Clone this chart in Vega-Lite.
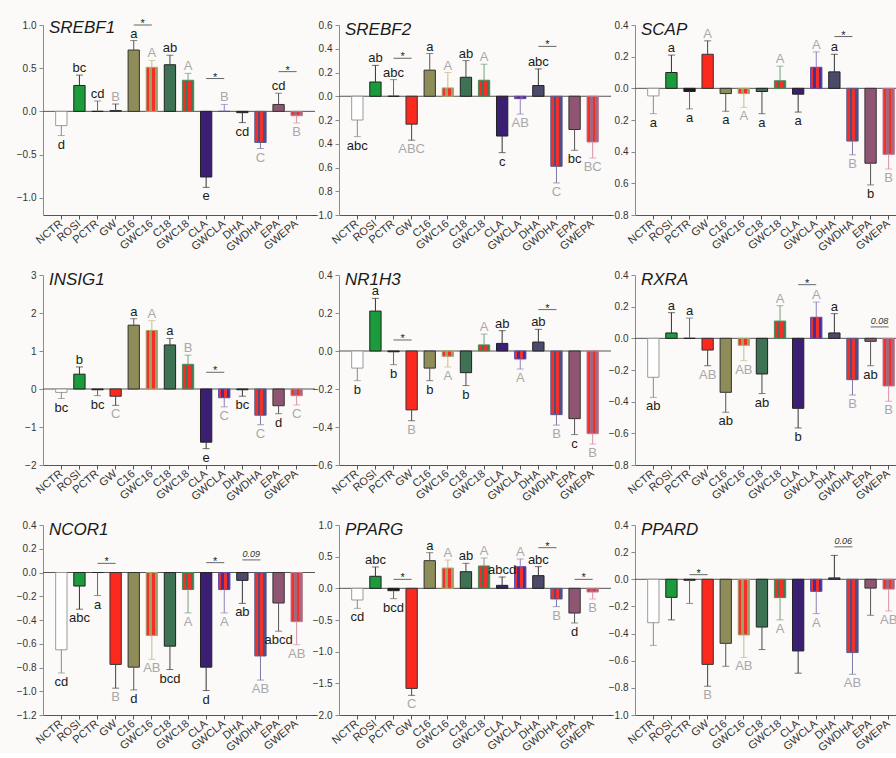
{
"$schema":"https://vega.github.io/schema/vega-lite/v6.json",
"background":"#fcfaf8",
"padding":{"left":16,"top":18,"right":0,"bottom":0},
"columns":3,
"spacing":{"row":60,"column":24},
"bounds":"flush",
"datasets":{
"bars":[
{"g":"SREBF1","c":"NCTR","v":-0.165,"e":-0.28,"l":"d"},
{"g":"SREBF1","c":"ROSI","v":0.30,"e":0.42,"l":"bc"},
{"g":"SREBF1","c":"PCTR","v":0.0,"e":0.12,"l":"cd"},
{"g":"SREBF1","c":"GW","v":0.01,"e":0.085,"l":"B"},
{"g":"SREBF1","c":"C16","v":0.71,"e":0.82,"l":"a"},
{"g":"SREBF1","c":"GWC16","v":0.51,"e":0.59,"l":"A"},
{"g":"SREBF1","c":"C18","v":0.54,"e":0.65,"l":"ab"},
{"g":"SREBF1","c":"GWC18","v":0.36,"e":0.44,"l":"A"},
{"g":"SREBF1","c":"CLA","v":-0.76,"e":-0.88,"l":"e"},
{"g":"SREBF1","c":"GWCLA","v":0.0,"e":0.08,"l":"B"},
{"g":"SREBF1","c":"DHA","v":-0.015,"e":-0.13,"l":"cd"},
{"g":"SREBF1","c":"GWDHA","v":-0.36,"e":-0.43,"l":"C"},
{"g":"SREBF1","c":"EPA","v":0.08,"e":0.21,"l":"cd"},
{"g":"SREBF1","c":"GWEPA","v":-0.05,"e":-0.135,"l":"B"},
{"g":"SREBF2","c":"NCTR","v":-0.20,"e":-0.34,"l":"abc"},
{"g":"SREBF2","c":"ROSI","v":0.12,"e":0.26,"l":"ab"},
{"g":"SREBF2","c":"PCTR","v":0.0,"e":0.14,"l":"abc"},
{"g":"SREBF2","c":"GW","v":-0.235,"e":-0.37,"l":"ABC"},
{"g":"SREBF2","c":"C16","v":0.22,"e":0.36,"l":"a"},
{"g":"SREBF2","c":"GWC16","v":0.07,"e":0.20,"l":"A"},
{"g":"SREBF2","c":"C18","v":0.16,"e":0.30,"l":"ab"},
{"g":"SREBF2","c":"GWC18","v":0.135,"e":0.27,"l":"A"},
{"g":"SREBF2","c":"CLA","v":-0.335,"e":-0.475,"l":"c"},
{"g":"SREBF2","c":"GWCLA","v":-0.02,"e":-0.15,"l":"AB"},
{"g":"SREBF2","c":"DHA","v":0.09,"e":0.23,"l":"abc"},
{"g":"SREBF2","c":"GWDHA","v":-0.59,"e":-0.73,"l":"C"},
{"g":"SREBF2","c":"EPA","v":-0.28,"e":-0.455,"l":"bc"},
{"g":"SREBF2","c":"GWEPA","v":-0.385,"e":-0.52,"l":"BC"},
{"g":"SCAP","c":"NCTR","v":-0.048,"e":-0.16,"l":"a"},
{"g":"SCAP","c":"ROSI","v":0.10,"e":0.21,"l":"a"},
{"g":"SCAP","c":"PCTR","v":-0.02,"e":-0.13,"l":"a"},
{"g":"SCAP","c":"GW","v":0.215,"e":0.30,"l":"A"},
{"g":"SCAP","c":"C16","v":-0.033,"e":-0.145,"l":"a"},
{"g":"SCAP","c":"GWC16","v":-0.033,"e":-0.12,"l":"A"},
{"g":"SCAP","c":"C18","v":-0.02,"e":-0.16,"l":"a"},
{"g":"SCAP","c":"GWC18","v":0.048,"e":0.14,"l":"A"},
{"g":"SCAP","c":"CLA","v":-0.037,"e":-0.15,"l":"a"},
{"g":"SCAP","c":"GWCLA","v":0.133,"e":0.23,"l":"A"},
{"g":"SCAP","c":"DHA","v":0.104,"e":0.215,"l":"a"},
{"g":"SCAP","c":"GWDHA","v":-0.333,"e":-0.42,"l":"B"},
{"g":"SCAP","c":"EPA","v":-0.473,"e":-0.61,"l":"b"},
{"g":"SCAP","c":"GWEPA","v":-0.417,"e":-0.51,"l":"B"},
{"g":"INSIG1","c":"NCTR","v":-0.09,"e":-0.25,"l":"bc"},
{"g":"INSIG1","c":"ROSI","v":0.39,"e":0.58,"l":"b"},
{"g":"INSIG1","c":"PCTR","v":-0.02,"e":-0.175,"l":"bc"},
{"g":"INSIG1","c":"GW","v":-0.19,"e":-0.43,"l":"C"},
{"g":"INSIG1","c":"C16","v":1.68,"e":1.85,"l":"a"},
{"g":"INSIG1","c":"GWC16","v":1.54,"e":1.80,"l":"A"},
{"g":"INSIG1","c":"C18","v":1.16,"e":1.33,"l":"a"},
{"g":"INSIG1","c":"GWC18","v":0.65,"e":0.89,"l":"B"},
{"g":"INSIG1","c":"CLA","v":-1.40,"e":-1.57,"l":"e"},
{"g":"INSIG1","c":"GWCLA","v":-0.23,"e":-0.47,"l":"C"},
{"g":"INSIG1","c":"DHA","v":-0.02,"e":-0.19,"l":"bc"},
{"g":"INSIG1","c":"GWDHA","v":-0.69,"e":-0.94,"l":"C"},
{"g":"INSIG1","c":"EPA","v":-0.44,"e":-0.65,"l":"d"},
{"g":"INSIG1","c":"GWEPA","v":-0.175,"e":-0.42,"l":"C"},
{"g":"NR1H3","c":"NCTR","v":-0.09,"e":-0.156,"l":"b"},
{"g":"NR1H3","c":"ROSI","v":0.21,"e":0.277,"l":"a"},
{"g":"NR1H3","c":"PCTR","v":-0.004,"e":-0.072,"l":"b"},
{"g":"NR1H3","c":"GW","v":-0.31,"e":-0.367,"l":"B"},
{"g":"NR1H3","c":"C16","v":-0.09,"e":-0.156,"l":"b"},
{"g":"NR1H3","c":"GWC16","v":-0.028,"e":-0.084,"l":"A"},
{"g":"NR1H3","c":"C18","v":-0.114,"e":-0.182,"l":"b"},
{"g":"NR1H3","c":"GWC18","v":0.032,"e":0.089,"l":"A"},
{"g":"NR1H3","c":"CLA","v":0.04,"e":0.107,"l":"ab"},
{"g":"NR1H3","c":"GWCLA","v":-0.042,"e":-0.095,"l":"A"},
{"g":"NR1H3","c":"DHA","v":0.047,"e":0.114,"l":"ab"},
{"g":"NR1H3","c":"GWDHA","v":-0.335,"e":-0.39,"l":"B"},
{"g":"NR1H3","c":"EPA","v":-0.356,"e":-0.44,"l":"c"},
{"g":"NR1H3","c":"GWEPA","v":-0.435,"e":-0.49,"l":"B"},
{"g":"RXRA","c":"NCTR","v":-0.246,"e":-0.373,"l":"ab"},
{"g":"RXRA","c":"ROSI","v":0.034,"e":0.162,"l":"a"},
{"g":"RXRA","c":"PCTR","v":0.0,"e":0.128,"l":"a"},
{"g":"RXRA","c":"GW","v":-0.074,"e":-0.173,"l":"AB"},
{"g":"RXRA","c":"C16","v":-0.341,"e":-0.467,"l":"ab"},
{"g":"RXRA","c":"GWC16","v":-0.044,"e":-0.141,"l":"AB"},
{"g":"RXRA","c":"C18","v":-0.225,"e":-0.349,"l":"ab"},
{"g":"RXRA","c":"GWC18","v":0.109,"e":0.206,"l":"A"},
{"g":"RXRA","c":"CLA","v":-0.442,"e":-0.566,"l":"b"},
{"g":"RXRA","c":"GWCLA","v":0.133,"e":0.229,"l":"A"},
{"g":"RXRA","c":"DHA","v":0.034,"e":0.156,"l":"a"},
{"g":"RXRA","c":"GWDHA","v":-0.261,"e":-0.358,"l":"B"},
{"g":"RXRA","c":"EPA","v":-0.019,"e":-0.173,"l":"ab"},
{"g":"RXRA","c":"GWEPA","v":-0.301,"e":-0.398,"l":"B"},
{"g":"NCOR1","c":"NCTR","v":-0.651,"e":-0.846,"l":"cd"},
{"g":"NCOR1","c":"ROSI","v":-0.114,"e":-0.309,"l":"abc"},
{"g":"NCOR1","c":"PCTR","v":0.0,"e":-0.194,"l":"a"},
{"g":"NCOR1","c":"GW","v":-0.774,"e":-0.974,"l":"B"},
{"g":"NCOR1","c":"C16","v":-0.797,"e":-0.989,"l":"d"},
{"g":"NCOR1","c":"GWC16","v":-0.531,"e":-0.731,"l":"AB"},
{"g":"NCOR1","c":"C18","v":-0.62,"e":-0.817,"l":"bcd"},
{"g":"NCOR1","c":"GWC18","v":-0.143,"e":-0.34,"l":"A"},
{"g":"NCOR1","c":"CLA","v":-0.797,"e":-0.994,"l":"d"},
{"g":"NCOR1","c":"GWCLA","v":-0.143,"e":-0.34,"l":"A"},
{"g":"NCOR1","c":"DHA","v":-0.066,"e":-0.26,"l":"ab"},
{"g":"NCOR1","c":"GWDHA","v":-0.703,"e":-0.906,"l":"AB"},
{"g":"NCOR1","c":"EPA","v":-0.257,"e":-0.494,"l":"abcd"},
{"g":"NCOR1","c":"GWEPA","v":-0.414,"e":-0.609,"l":"AB"},
{"g":"PPARG","c":"NCTR","v":-0.184,"e":-0.316,"l":"cd"},
{"g":"PPARG","c":"ROSI","v":0.19,"e":0.337,"l":"abc"},
{"g":"PPARG","c":"PCTR","v":-0.037,"e":-0.163,"l":"bcd"},
{"g":"PPARG","c":"GW","v":-1.58,"e":-1.69,"l":"C"},
{"g":"PPARG","c":"C16","v":0.437,"e":0.563,"l":"a"},
{"g":"PPARG","c":"GWC16","v":0.32,"e":0.447,"l":"A"},
{"g":"PPARG","c":"C18","v":0.263,"e":0.395,"l":"ab"},
{"g":"PPARG","c":"GWC18","v":0.353,"e":0.479,"l":"A"},
{"g":"PPARG","c":"CLA","v":0.047,"e":0.179,"l":"abcd"},
{"g":"PPARG","c":"GWCLA","v":0.342,"e":0.463,"l":"A"},
{"g":"PPARG","c":"DHA","v":0.20,"e":0.342,"l":"abc"},
{"g":"PPARG","c":"GWDHA","v":-0.168,"e":-0.289,"l":"B"},
{"g":"PPARG","c":"EPA","v":-0.39,"e":-0.547,"l":"d"},
{"g":"PPARG","c":"GWEPA","v":-0.058,"e":-0.168,"l":"B"},
{"g":"PPARD","c":"NCTR","v":-0.32,"e":-0.487,"l":""},
{"g":"PPARD","c":"ROSI","v":-0.133,"e":-0.299,"l":""},
{"g":"PPARD","c":"PCTR","v":-0.007,"e":-0.178,"l":""},
{"g":"PPARD","c":"GW","v":-0.627,"e":-0.788,"l":"B"},
{"g":"PPARD","c":"C16","v":-0.472,"e":-0.641,"l":""},
{"g":"PPARD","c":"GWC16","v":-0.41,"e":-0.576,"l":"AB"},
{"g":"PPARD","c":"C18","v":-0.352,"e":-0.518,"l":""},
{"g":"PPARD","c":"GWC18","v":-0.135,"e":-0.299,"l":"A"},
{"g":"PPARD","c":"CLA","v":-0.528,"e":-0.692,"l":""},
{"g":"PPARD","c":"GWCLA","v":-0.089,"e":-0.253,"l":"A"},
{"g":"PPARD","c":"DHA","v":0.01,"e":0.176,"l":""},
{"g":"PPARD","c":"GWDHA","v":-0.54,"e":-0.70,"l":"AB"},
{"g":"PPARD","c":"EPA","v":-0.065,"e":-0.265,"l":""},
{"g":"PPARD","c":"GWEPA","v":-0.072,"e":-0.234,"l":"AB"}
],
"sig":[
{"g":"SREBF1","a":"C16","b":"GWC16","y":1.0,"t":"*"},
{"g":"SREBF1","a":"CLA","b":"GWCLA","y":0.38,"t":"*"},
{"g":"SREBF1","a":"EPA","b":"GWEPA","y":0.46,"t":"*"},
{"g":"SREBF2","a":"PCTR","b":"GW","y":0.32,"t":"*"},
{"g":"SREBF2","a":"DHA","b":"GWDHA","y":0.42,"t":"*"},
{"g":"SCAP","a":"DHA","b":"GWDHA","y":0.327,"t":"*"},
{"g":"INSIG1","a":"CLA","b":"GWCLA","y":0.44,"t":"*"},
{"g":"NR1H3","a":"PCTR","b":"GW","y":0.058,"t":"*"},
{"g":"NR1H3","a":"DHA","b":"GWDHA","y":0.218,"t":"*"},
{"g":"RXRA","a":"CLA","b":"GWCLA","y":0.339,"t":"*"},
{"g":"RXRA","a":"EPA","b":"GWEPA","y":0.072,"t":"0.08"},
{"g":"NCOR1","a":"PCTR","b":"GW","y":0.077,"t":"*"},
{"g":"NCOR1","a":"CLA","b":"GWCLA","y":0.083,"t":"*"},
{"g":"NCOR1","a":"DHA","b":"GWDHA","y":0.106,"t":"0.09"},
{"g":"PPARG","a":"PCTR","b":"GW","y":0.142,"t":"*"},
{"g":"PPARG","a":"DHA","b":"GWDHA","y":0.642,"t":"*"},
{"g":"PPARG","a":"EPA","b":"GWEPA","y":0.142,"t":"*"},
{"g":"PPARD","a":"PCTR","b":"GW","y":0.034,"t":"*"},
{"g":"PPARD","a":"DHA","b":"GWDHA","y":0.239,"t":"0.06"}
]
},
"concat":[
{"title":"SREBF1","width":272,"height":190,"layer":[
 {"data":{"values":[{"z":0}]},"mark":{"type":"rule","color":"#555555","strokeWidth":1},"encoding":{"y":{"field":"z","type":"quantitative"}}},
 {"data":{"name":"bars"},"transform":[{"filter":"datum.g==='SREBF1'"}],"layer":[
  {"mark":{"type":"bar","strokeWidth":1},"encoding":{"x":{"field":"c","type":"nominal","scale":{"domain":["NCTR","ROSI","PCTR","GW","C16","GWC16","C18","GWC18","CLA","GWCLA","DHA","GWDHA","EPA","GWEPA"],"paddingInner":0.375,"paddingOuter":0.7}},"y":{"field":"v","type":"quantitative","scale":{"domain":[-1.2,1.0],"nice":false,"zero":false},"axis":{"values":[1.0,0.5,0,-0.5,-1.0],"tickCount":30,"labelFlush":false,"format":".1f"}},
   "fill":{"condition":[{"test":"datum.c==='GWC16'","value":{"gradient":"linear","x1":0,"y1":0,"x2":1,"y2":0,"stops":[{"offset":0,"color":"#f2302a"},{"offset":0.25,"color":"#f2302a"},{"offset":0.25,"color":"#a39f62"},{"offset":0.5,"color":"#a39f62"},{"offset":0.5,"color":"#f2302a"},{"offset":0.75,"color":"#f2302a"},{"offset":0.75,"color":"#a39f62"},{"offset":1,"color":"#a39f62"}]}},{"test":"datum.c==='GWC18'","value":{"gradient":"linear","x1":0,"y1":0,"x2":1,"y2":0,"stops":[{"offset":0,"color":"#f2302a"},{"offset":0.25,"color":"#f2302a"},{"offset":0.25,"color":"#3f7a52"},{"offset":0.5,"color":"#3f7a52"},{"offset":0.5,"color":"#f2302a"},{"offset":0.75,"color":"#f2302a"},{"offset":0.75,"color":"#3f7a52"},{"offset":1,"color":"#3f7a52"}]}},{"test":"datum.c==='GWCLA'","value":{"gradient":"linear","x1":0,"y1":0,"x2":1,"y2":0,"stops":[{"offset":0,"color":"#f2302a"},{"offset":0.25,"color":"#f2302a"},{"offset":0.25,"color":"#43309a"},{"offset":0.5,"color":"#43309a"},{"offset":0.5,"color":"#f2302a"},{"offset":0.75,"color":"#f2302a"},{"offset":0.75,"color":"#43309a"},{"offset":1,"color":"#43309a"}]}},{"test":"datum.c==='GWDHA'","value":{"gradient":"linear","x1":0,"y1":0,"x2":1,"y2":0,"stops":[{"offset":0,"color":"#f2302a"},{"offset":0.25,"color":"#f2302a"},{"offset":0.25,"color":"#4e4e86"},{"offset":0.5,"color":"#4e4e86"},{"offset":0.5,"color":"#f2302a"},{"offset":0.75,"color":"#f2302a"},{"offset":0.75,"color":"#4e4e86"},{"offset":1,"color":"#4e4e86"}]}},{"test":"datum.c==='GWEPA'","value":{"gradient":"linear","x1":0,"y1":0,"x2":1,"y2":0,"stops":[{"offset":0,"color":"#f2302a"},{"offset":0.25,"color":"#f2302a"},{"offset":0.25,"color":"#a4687e"},{"offset":0.5,"color":"#a4687e"},{"offset":0.5,"color":"#f2302a"},{"offset":0.75,"color":"#f2302a"},{"offset":0.75,"color":"#a4687e"},{"offset":1,"color":"#a4687e"}]}}],"field":"c","type":"nominal","scale":{"domain":["NCTR","ROSI","PCTR","GW","C16","GWC16","C18","GWC18","CLA","GWCLA","DHA","GWDHA","EPA","GWEPA"],"range":["#ffffff","#1c9b3c","#1a1a1a","#fc2a1e","#8e8c58","#c8603c","#3e7254","#9a4a3a","#3b1f72","#8a2a6a","#4c4a6a","#9a3a5a","#8f5572","#dd4a5a"]},"legend":null},
   "stroke":{"field":"c","type":"nominal","scale":{"domain":["NCTR","ROSI","PCTR","GW","C16","GWC16","C18","GWC18","CLA","GWCLA","DHA","GWDHA","EPA","GWEPA"],"range":["#9a9a9a","#222222","#222222","#333333","#333333","#a8a46a","#222222","#4a8a5a","#222222","#5a4aa8","#222222","#5a5a8a","#333333","#c07a90"]},"legend":null}}},
  {"mark":{"type":"rule","strokeWidth":1},"encoding":{"x":{"field":"c","type":"nominal"},"y":{"field":"v","type":"quantitative"},"y2":{"field":"e"},"color":{"field":"c","type":"nominal","scale":{"domain":["NCTR","ROSI","PCTR","GW","C16","GWC16","C18","GWC18","CLA","GWCLA","DHA","GWDHA","EPA","GWEPA"],"range":["#8a8a8a","#333333","#666666","#444444","#555555","#c4bc8a","#444444","#6fa07f","#333333","#8c80c0","#333333","#7a78a6","#555555","#d890a8"]},"legend":null}}},
  {"mark":{"type":"tick","orient":"horizontal","size":7,"thickness":1},"encoding":{"x":{"field":"c","type":"nominal"},"y":{"field":"e","type":"quantitative"},"color":{"field":"c","type":"nominal","legend":null}}},
  {"transform":[{"filter":"datum.l!=='' && datum.e>=datum.v"}],"mark":{"type":"text","baseline":"alphabetic","dy":-3,"fontSize":13},"encoding":{"x":{"field":"c","type":"nominal"},"y":{"field":"e","type":"quantitative"},"text":{"field":"l"},"color":{"condition":{"test":"datum.l===upper(datum.l)","value":"#a8a8a8"},"value":"#1a1a1a"}}},
  {"transform":[{"filter":"datum.l!=='' && datum.e<datum.v"}],"mark":{"type":"text","baseline":"top","dy":3,"fontSize":13},"encoding":{"x":{"field":"c","type":"nominal"},"y":{"field":"e","type":"quantitative"},"text":{"field":"l"},"color":{"condition":{"test":"datum.l===upper(datum.l)","value":"#a8a8a8"},"value":"#1a1a1a"}}}
 ]},
 {"data":{"name":"sig"},"transform":[{"filter":"datum.g==='SREBF1'"}],"layer":[
  {"mark":{"type":"rule","color":"#666666","strokeWidth":1},"encoding":{"x":{"field":"a","type":"nominal"},"x2":{"field":"b"},"y":{"field":"y","type":"quantitative"}}},
  {"transform":[{"filter":"datum.t==='*'"}],"mark":{"type":"text","dx":9,"dy":2,"baseline":"alphabetic","fontSize":11,"color":"#222222"},"encoding":{"x":{"field":"a","type":"nominal"},"y":{"field":"y","type":"quantitative"},"text":{"field":"t"}}},
  {"transform":[{"filter":"datum.t!=='*'"}],"mark":{"type":"text","dx":9,"dy":-3,"baseline":"alphabetic","fontSize":9,"fontStyle":"italic","color":"#333333"},"encoding":{"x":{"field":"a","type":"nominal"},"y":{"field":"y","type":"quantitative"},"text":{"field":"t"}}}
 ]}
]},
{"title":"SREBF2","width":272,"height":190,"layer":[
 {"data":{"values":[{"z":0}]},"mark":{"type":"rule","color":"#555555","strokeWidth":1},"encoding":{"y":{"field":"z","type":"quantitative"}}},
 {"data":{"name":"bars"},"transform":[{"filter":"datum.g==='SREBF2'"}],"layer":[
  {"mark":{"type":"bar","strokeWidth":1},"encoding":{"x":{"field":"c","type":"nominal","scale":{"domain":["NCTR","ROSI","PCTR","GW","C16","GWC16","C18","GWC18","CLA","GWCLA","DHA","GWDHA","EPA","GWEPA"],"paddingInner":0.375,"paddingOuter":0.7}},"y":{"field":"v","type":"quantitative","scale":{"domain":[-1.0,0.6],"nice":false,"zero":false},"axis":{"values":[0.6,0.4,0.2,0,-0.2,-0.4,-0.6,-0.8,-1.0],"tickCount":30,"labelFlush":false,"labelExpr":"datum.value < -0.99 || datum.value >= 0 ? format(datum.value, '.1f') : format(-datum.value, '.1f')"}},
   "fill":{"condition":[{"test":"datum.c==='GWC16'","value":{"gradient":"linear","x1":0,"y1":0,"x2":1,"y2":0,"stops":[{"offset":0,"color":"#f2302a"},{"offset":0.25,"color":"#f2302a"},{"offset":0.25,"color":"#a39f62"},{"offset":0.5,"color":"#a39f62"},{"offset":0.5,"color":"#f2302a"},{"offset":0.75,"color":"#f2302a"},{"offset":0.75,"color":"#a39f62"},{"offset":1,"color":"#a39f62"}]}},{"test":"datum.c==='GWC18'","value":{"gradient":"linear","x1":0,"y1":0,"x2":1,"y2":0,"stops":[{"offset":0,"color":"#f2302a"},{"offset":0.25,"color":"#f2302a"},{"offset":0.25,"color":"#3f7a52"},{"offset":0.5,"color":"#3f7a52"},{"offset":0.5,"color":"#f2302a"},{"offset":0.75,"color":"#f2302a"},{"offset":0.75,"color":"#3f7a52"},{"offset":1,"color":"#3f7a52"}]}},{"test":"datum.c==='GWCLA'","value":{"gradient":"linear","x1":0,"y1":0,"x2":1,"y2":0,"stops":[{"offset":0,"color":"#f2302a"},{"offset":0.25,"color":"#f2302a"},{"offset":0.25,"color":"#43309a"},{"offset":0.5,"color":"#43309a"},{"offset":0.5,"color":"#f2302a"},{"offset":0.75,"color":"#f2302a"},{"offset":0.75,"color":"#43309a"},{"offset":1,"color":"#43309a"}]}},{"test":"datum.c==='GWDHA'","value":{"gradient":"linear","x1":0,"y1":0,"x2":1,"y2":0,"stops":[{"offset":0,"color":"#f2302a"},{"offset":0.25,"color":"#f2302a"},{"offset":0.25,"color":"#4e4e86"},{"offset":0.5,"color":"#4e4e86"},{"offset":0.5,"color":"#f2302a"},{"offset":0.75,"color":"#f2302a"},{"offset":0.75,"color":"#4e4e86"},{"offset":1,"color":"#4e4e86"}]}},{"test":"datum.c==='GWEPA'","value":{"gradient":"linear","x1":0,"y1":0,"x2":1,"y2":0,"stops":[{"offset":0,"color":"#f2302a"},{"offset":0.25,"color":"#f2302a"},{"offset":0.25,"color":"#a4687e"},{"offset":0.5,"color":"#a4687e"},{"offset":0.5,"color":"#f2302a"},{"offset":0.75,"color":"#f2302a"},{"offset":0.75,"color":"#a4687e"},{"offset":1,"color":"#a4687e"}]}}],"field":"c","type":"nominal","scale":{"domain":["NCTR","ROSI","PCTR","GW","C16","GWC16","C18","GWC18","CLA","GWCLA","DHA","GWDHA","EPA","GWEPA"],"range":["#ffffff","#1c9b3c","#1a1a1a","#fc2a1e","#8e8c58","#c8603c","#3e7254","#9a4a3a","#3b1f72","#8a2a6a","#4c4a6a","#9a3a5a","#8f5572","#dd4a5a"]},"legend":null},
   "stroke":{"field":"c","type":"nominal","scale":{"domain":["NCTR","ROSI","PCTR","GW","C16","GWC16","C18","GWC18","CLA","GWCLA","DHA","GWDHA","EPA","GWEPA"],"range":["#9a9a9a","#222222","#222222","#333333","#333333","#a8a46a","#222222","#4a8a5a","#222222","#5a4aa8","#222222","#5a5a8a","#333333","#c07a90"]},"legend":null}}},
  {"mark":{"type":"rule","strokeWidth":1},"encoding":{"x":{"field":"c","type":"nominal"},"y":{"field":"v","type":"quantitative"},"y2":{"field":"e"},"color":{"field":"c","type":"nominal","scale":{"domain":["NCTR","ROSI","PCTR","GW","C16","GWC16","C18","GWC18","CLA","GWCLA","DHA","GWDHA","EPA","GWEPA"],"range":["#8a8a8a","#333333","#666666","#444444","#555555","#c4bc8a","#444444","#6fa07f","#333333","#8c80c0","#333333","#7a78a6","#555555","#d890a8"]},"legend":null}}},
  {"mark":{"type":"tick","orient":"horizontal","size":7,"thickness":1},"encoding":{"x":{"field":"c","type":"nominal"},"y":{"field":"e","type":"quantitative"},"color":{"field":"c","type":"nominal","legend":null}}},
  {"transform":[{"filter":"datum.l!=='' && datum.e>=datum.v"}],"mark":{"type":"text","baseline":"alphabetic","dy":-3,"fontSize":13},"encoding":{"x":{"field":"c","type":"nominal"},"y":{"field":"e","type":"quantitative"},"text":{"field":"l"},"color":{"condition":{"test":"datum.l===upper(datum.l)","value":"#a8a8a8"},"value":"#1a1a1a"}}},
  {"transform":[{"filter":"datum.l!=='' && datum.e<datum.v"}],"mark":{"type":"text","baseline":"top","dy":3,"fontSize":13},"encoding":{"x":{"field":"c","type":"nominal"},"y":{"field":"e","type":"quantitative"},"text":{"field":"l"},"color":{"condition":{"test":"datum.l===upper(datum.l)","value":"#a8a8a8"},"value":"#1a1a1a"}}}
 ]},
 {"data":{"name":"sig"},"transform":[{"filter":"datum.g==='SREBF2'"}],"layer":[
  {"mark":{"type":"rule","color":"#666666","strokeWidth":1},"encoding":{"x":{"field":"a","type":"nominal"},"x2":{"field":"b"},"y":{"field":"y","type":"quantitative"}}},
  {"transform":[{"filter":"datum.t==='*'"}],"mark":{"type":"text","dx":9,"dy":2,"baseline":"alphabetic","fontSize":11,"color":"#222222"},"encoding":{"x":{"field":"a","type":"nominal"},"y":{"field":"y","type":"quantitative"},"text":{"field":"t"}}},
  {"transform":[{"filter":"datum.t!=='*'"}],"mark":{"type":"text","dx":9,"dy":-3,"baseline":"alphabetic","fontSize":9,"fontStyle":"italic","color":"#333333"},"encoding":{"x":{"field":"a","type":"nominal"},"y":{"field":"y","type":"quantitative"},"text":{"field":"t"}}}
 ]}
]},
{"title":"SCAP","width":272,"height":190,"layer":[
 {"data":{"values":[{"z":0}]},"mark":{"type":"rule","color":"#555555","strokeWidth":1},"encoding":{"y":{"field":"z","type":"quantitative"}}},
 {"data":{"name":"bars"},"transform":[{"filter":"datum.g==='SCAP'"}],"layer":[
  {"mark":{"type":"bar","strokeWidth":1},"encoding":{"x":{"field":"c","type":"nominal","scale":{"domain":["NCTR","ROSI","PCTR","GW","C16","GWC16","C18","GWC18","CLA","GWCLA","DHA","GWDHA","EPA","GWEPA"],"paddingInner":0.375,"paddingOuter":0.7}},"y":{"field":"v","type":"quantitative","scale":{"domain":[-0.8,0.4],"nice":false,"zero":false},"axis":{"values":[0.4,0.2,0,-0.2,-0.4,-0.6,-0.8],"tickCount":30,"labelFlush":false,"labelExpr":"datum.value < -0.79 || datum.value >= 0 ? format(datum.value, '.1f') : format(-datum.value, '.1f')"}},
   "fill":{"condition":[{"test":"datum.c==='GWC16'","value":{"gradient":"linear","x1":0,"y1":0,"x2":1,"y2":0,"stops":[{"offset":0,"color":"#f2302a"},{"offset":0.25,"color":"#f2302a"},{"offset":0.25,"color":"#a39f62"},{"offset":0.5,"color":"#a39f62"},{"offset":0.5,"color":"#f2302a"},{"offset":0.75,"color":"#f2302a"},{"offset":0.75,"color":"#a39f62"},{"offset":1,"color":"#a39f62"}]}},{"test":"datum.c==='GWC18'","value":{"gradient":"linear","x1":0,"y1":0,"x2":1,"y2":0,"stops":[{"offset":0,"color":"#f2302a"},{"offset":0.25,"color":"#f2302a"},{"offset":0.25,"color":"#3f7a52"},{"offset":0.5,"color":"#3f7a52"},{"offset":0.5,"color":"#f2302a"},{"offset":0.75,"color":"#f2302a"},{"offset":0.75,"color":"#3f7a52"},{"offset":1,"color":"#3f7a52"}]}},{"test":"datum.c==='GWCLA'","value":{"gradient":"linear","x1":0,"y1":0,"x2":1,"y2":0,"stops":[{"offset":0,"color":"#f2302a"},{"offset":0.25,"color":"#f2302a"},{"offset":0.25,"color":"#43309a"},{"offset":0.5,"color":"#43309a"},{"offset":0.5,"color":"#f2302a"},{"offset":0.75,"color":"#f2302a"},{"offset":0.75,"color":"#43309a"},{"offset":1,"color":"#43309a"}]}},{"test":"datum.c==='GWDHA'","value":{"gradient":"linear","x1":0,"y1":0,"x2":1,"y2":0,"stops":[{"offset":0,"color":"#f2302a"},{"offset":0.25,"color":"#f2302a"},{"offset":0.25,"color":"#4e4e86"},{"offset":0.5,"color":"#4e4e86"},{"offset":0.5,"color":"#f2302a"},{"offset":0.75,"color":"#f2302a"},{"offset":0.75,"color":"#4e4e86"},{"offset":1,"color":"#4e4e86"}]}},{"test":"datum.c==='GWEPA'","value":{"gradient":"linear","x1":0,"y1":0,"x2":1,"y2":0,"stops":[{"offset":0,"color":"#f2302a"},{"offset":0.25,"color":"#f2302a"},{"offset":0.25,"color":"#a4687e"},{"offset":0.5,"color":"#a4687e"},{"offset":0.5,"color":"#f2302a"},{"offset":0.75,"color":"#f2302a"},{"offset":0.75,"color":"#a4687e"},{"offset":1,"color":"#a4687e"}]}}],"field":"c","type":"nominal","scale":{"domain":["NCTR","ROSI","PCTR","GW","C16","GWC16","C18","GWC18","CLA","GWCLA","DHA","GWDHA","EPA","GWEPA"],"range":["#ffffff","#1c9b3c","#1a1a1a","#fc2a1e","#8e8c58","#c8603c","#3e7254","#9a4a3a","#3b1f72","#8a2a6a","#4c4a6a","#9a3a5a","#8f5572","#dd4a5a"]},"legend":null},
   "stroke":{"field":"c","type":"nominal","scale":{"domain":["NCTR","ROSI","PCTR","GW","C16","GWC16","C18","GWC18","CLA","GWCLA","DHA","GWDHA","EPA","GWEPA"],"range":["#9a9a9a","#222222","#222222","#333333","#333333","#a8a46a","#222222","#4a8a5a","#222222","#5a4aa8","#222222","#5a5a8a","#333333","#c07a90"]},"legend":null}}},
  {"mark":{"type":"rule","strokeWidth":1},"encoding":{"x":{"field":"c","type":"nominal"},"y":{"field":"v","type":"quantitative"},"y2":{"field":"e"},"color":{"field":"c","type":"nominal","scale":{"domain":["NCTR","ROSI","PCTR","GW","C16","GWC16","C18","GWC18","CLA","GWCLA","DHA","GWDHA","EPA","GWEPA"],"range":["#8a8a8a","#333333","#666666","#444444","#555555","#c4bc8a","#444444","#6fa07f","#333333","#8c80c0","#333333","#7a78a6","#555555","#d890a8"]},"legend":null}}},
  {"mark":{"type":"tick","orient":"horizontal","size":7,"thickness":1},"encoding":{"x":{"field":"c","type":"nominal"},"y":{"field":"e","type":"quantitative"},"color":{"field":"c","type":"nominal","legend":null}}},
  {"transform":[{"filter":"datum.l!=='' && datum.e>=datum.v"}],"mark":{"type":"text","baseline":"alphabetic","dy":-3,"fontSize":13},"encoding":{"x":{"field":"c","type":"nominal"},"y":{"field":"e","type":"quantitative"},"text":{"field":"l"},"color":{"condition":{"test":"datum.l===upper(datum.l)","value":"#a8a8a8"},"value":"#1a1a1a"}}},
  {"transform":[{"filter":"datum.l!=='' && datum.e<datum.v"}],"mark":{"type":"text","baseline":"top","dy":3,"fontSize":13},"encoding":{"x":{"field":"c","type":"nominal"},"y":{"field":"e","type":"quantitative"},"text":{"field":"l"},"color":{"condition":{"test":"datum.l===upper(datum.l)","value":"#a8a8a8"},"value":"#1a1a1a"}}}
 ]},
 {"data":{"name":"sig"},"transform":[{"filter":"datum.g==='SCAP'"}],"layer":[
  {"mark":{"type":"rule","color":"#666666","strokeWidth":1},"encoding":{"x":{"field":"a","type":"nominal"},"x2":{"field":"b"},"y":{"field":"y","type":"quantitative"}}},
  {"transform":[{"filter":"datum.t==='*'"}],"mark":{"type":"text","dx":9,"dy":2,"baseline":"alphabetic","fontSize":11,"color":"#222222"},"encoding":{"x":{"field":"a","type":"nominal"},"y":{"field":"y","type":"quantitative"},"text":{"field":"t"}}},
  {"transform":[{"filter":"datum.t!=='*'"}],"mark":{"type":"text","dx":9,"dy":-3,"baseline":"alphabetic","fontSize":9,"fontStyle":"italic","color":"#333333"},"encoding":{"x":{"field":"a","type":"nominal"},"y":{"field":"y","type":"quantitative"},"text":{"field":"t"}}}
 ]}
]},
{"title":"INSIG1","width":272,"height":190,"layer":[
 {"data":{"values":[{"z":0}]},"mark":{"type":"rule","color":"#555555","strokeWidth":1},"encoding":{"y":{"field":"z","type":"quantitative"}}},
 {"data":{"name":"bars"},"transform":[{"filter":"datum.g==='INSIG1'"}],"layer":[
  {"mark":{"type":"bar","strokeWidth":1},"encoding":{"x":{"field":"c","type":"nominal","scale":{"domain":["NCTR","ROSI","PCTR","GW","C16","GWC16","C18","GWC18","CLA","GWCLA","DHA","GWDHA","EPA","GWEPA"],"paddingInner":0.375,"paddingOuter":0.7}},"y":{"field":"v","type":"quantitative","scale":{"domain":[-2,3],"nice":false,"zero":false},"axis":{"values":[3,2,1,0,-1,-2],"tickCount":30,"labelFlush":false,"format":"d"}},
   "fill":{"condition":[{"test":"datum.c==='GWC16'","value":{"gradient":"linear","x1":0,"y1":0,"x2":1,"y2":0,"stops":[{"offset":0,"color":"#f2302a"},{"offset":0.25,"color":"#f2302a"},{"offset":0.25,"color":"#a39f62"},{"offset":0.5,"color":"#a39f62"},{"offset":0.5,"color":"#f2302a"},{"offset":0.75,"color":"#f2302a"},{"offset":0.75,"color":"#a39f62"},{"offset":1,"color":"#a39f62"}]}},{"test":"datum.c==='GWC18'","value":{"gradient":"linear","x1":0,"y1":0,"x2":1,"y2":0,"stops":[{"offset":0,"color":"#f2302a"},{"offset":0.25,"color":"#f2302a"},{"offset":0.25,"color":"#3f7a52"},{"offset":0.5,"color":"#3f7a52"},{"offset":0.5,"color":"#f2302a"},{"offset":0.75,"color":"#f2302a"},{"offset":0.75,"color":"#3f7a52"},{"offset":1,"color":"#3f7a52"}]}},{"test":"datum.c==='GWCLA'","value":{"gradient":"linear","x1":0,"y1":0,"x2":1,"y2":0,"stops":[{"offset":0,"color":"#f2302a"},{"offset":0.25,"color":"#f2302a"},{"offset":0.25,"color":"#43309a"},{"offset":0.5,"color":"#43309a"},{"offset":0.5,"color":"#f2302a"},{"offset":0.75,"color":"#f2302a"},{"offset":0.75,"color":"#43309a"},{"offset":1,"color":"#43309a"}]}},{"test":"datum.c==='GWDHA'","value":{"gradient":"linear","x1":0,"y1":0,"x2":1,"y2":0,"stops":[{"offset":0,"color":"#f2302a"},{"offset":0.25,"color":"#f2302a"},{"offset":0.25,"color":"#4e4e86"},{"offset":0.5,"color":"#4e4e86"},{"offset":0.5,"color":"#f2302a"},{"offset":0.75,"color":"#f2302a"},{"offset":0.75,"color":"#4e4e86"},{"offset":1,"color":"#4e4e86"}]}},{"test":"datum.c==='GWEPA'","value":{"gradient":"linear","x1":0,"y1":0,"x2":1,"y2":0,"stops":[{"offset":0,"color":"#f2302a"},{"offset":0.25,"color":"#f2302a"},{"offset":0.25,"color":"#a4687e"},{"offset":0.5,"color":"#a4687e"},{"offset":0.5,"color":"#f2302a"},{"offset":0.75,"color":"#f2302a"},{"offset":0.75,"color":"#a4687e"},{"offset":1,"color":"#a4687e"}]}}],"field":"c","type":"nominal","scale":{"domain":["NCTR","ROSI","PCTR","GW","C16","GWC16","C18","GWC18","CLA","GWCLA","DHA","GWDHA","EPA","GWEPA"],"range":["#ffffff","#1c9b3c","#1a1a1a","#fc2a1e","#8e8c58","#c8603c","#3e7254","#9a4a3a","#3b1f72","#8a2a6a","#4c4a6a","#9a3a5a","#8f5572","#dd4a5a"]},"legend":null},
   "stroke":{"field":"c","type":"nominal","scale":{"domain":["NCTR","ROSI","PCTR","GW","C16","GWC16","C18","GWC18","CLA","GWCLA","DHA","GWDHA","EPA","GWEPA"],"range":["#9a9a9a","#222222","#222222","#333333","#333333","#a8a46a","#222222","#4a8a5a","#222222","#5a4aa8","#222222","#5a5a8a","#333333","#c07a90"]},"legend":null}}},
  {"mark":{"type":"rule","strokeWidth":1},"encoding":{"x":{"field":"c","type":"nominal"},"y":{"field":"v","type":"quantitative"},"y2":{"field":"e"},"color":{"field":"c","type":"nominal","scale":{"domain":["NCTR","ROSI","PCTR","GW","C16","GWC16","C18","GWC18","CLA","GWCLA","DHA","GWDHA","EPA","GWEPA"],"range":["#8a8a8a","#333333","#666666","#444444","#555555","#c4bc8a","#444444","#6fa07f","#333333","#8c80c0","#333333","#7a78a6","#555555","#d890a8"]},"legend":null}}},
  {"mark":{"type":"tick","orient":"horizontal","size":7,"thickness":1},"encoding":{"x":{"field":"c","type":"nominal"},"y":{"field":"e","type":"quantitative"},"color":{"field":"c","type":"nominal","legend":null}}},
  {"transform":[{"filter":"datum.l!=='' && datum.e>=datum.v"}],"mark":{"type":"text","baseline":"alphabetic","dy":-3,"fontSize":13},"encoding":{"x":{"field":"c","type":"nominal"},"y":{"field":"e","type":"quantitative"},"text":{"field":"l"},"color":{"condition":{"test":"datum.l===upper(datum.l)","value":"#a8a8a8"},"value":"#1a1a1a"}}},
  {"transform":[{"filter":"datum.l!=='' && datum.e<datum.v"}],"mark":{"type":"text","baseline":"top","dy":3,"fontSize":13},"encoding":{"x":{"field":"c","type":"nominal"},"y":{"field":"e","type":"quantitative"},"text":{"field":"l"},"color":{"condition":{"test":"datum.l===upper(datum.l)","value":"#a8a8a8"},"value":"#1a1a1a"}}}
 ]},
 {"data":{"name":"sig"},"transform":[{"filter":"datum.g==='INSIG1'"}],"layer":[
  {"mark":{"type":"rule","color":"#666666","strokeWidth":1},"encoding":{"x":{"field":"a","type":"nominal"},"x2":{"field":"b"},"y":{"field":"y","type":"quantitative"}}},
  {"transform":[{"filter":"datum.t==='*'"}],"mark":{"type":"text","dx":9,"dy":2,"baseline":"alphabetic","fontSize":11,"color":"#222222"},"encoding":{"x":{"field":"a","type":"nominal"},"y":{"field":"y","type":"quantitative"},"text":{"field":"t"}}},
  {"transform":[{"filter":"datum.t!=='*'"}],"mark":{"type":"text","dx":9,"dy":-3,"baseline":"alphabetic","fontSize":9,"fontStyle":"italic","color":"#333333"},"encoding":{"x":{"field":"a","type":"nominal"},"y":{"field":"y","type":"quantitative"},"text":{"field":"t"}}}
 ]}
]},
{"title":"NR1H3","width":272,"height":190,"layer":[
 {"data":{"values":[{"z":0}]},"mark":{"type":"rule","color":"#555555","strokeWidth":1},"encoding":{"y":{"field":"z","type":"quantitative"}}},
 {"data":{"name":"bars"},"transform":[{"filter":"datum.g==='NR1H3'"}],"layer":[
  {"mark":{"type":"bar","strokeWidth":1},"encoding":{"x":{"field":"c","type":"nominal","scale":{"domain":["NCTR","ROSI","PCTR","GW","C16","GWC16","C18","GWC18","CLA","GWCLA","DHA","GWDHA","EPA","GWEPA"],"paddingInner":0.375,"paddingOuter":0.7}},"y":{"field":"v","type":"quantitative","scale":{"domain":[-0.6,0.4],"nice":false,"zero":false},"axis":{"values":[0.4,0.2,0,-0.2,-0.4,-0.6],"tickCount":30,"labelFlush":false,"format":".1f"}},
   "fill":{"condition":[{"test":"datum.c==='GWC16'","value":{"gradient":"linear","x1":0,"y1":0,"x2":1,"y2":0,"stops":[{"offset":0,"color":"#f2302a"},{"offset":0.25,"color":"#f2302a"},{"offset":0.25,"color":"#a39f62"},{"offset":0.5,"color":"#a39f62"},{"offset":0.5,"color":"#f2302a"},{"offset":0.75,"color":"#f2302a"},{"offset":0.75,"color":"#a39f62"},{"offset":1,"color":"#a39f62"}]}},{"test":"datum.c==='GWC18'","value":{"gradient":"linear","x1":0,"y1":0,"x2":1,"y2":0,"stops":[{"offset":0,"color":"#f2302a"},{"offset":0.25,"color":"#f2302a"},{"offset":0.25,"color":"#3f7a52"},{"offset":0.5,"color":"#3f7a52"},{"offset":0.5,"color":"#f2302a"},{"offset":0.75,"color":"#f2302a"},{"offset":0.75,"color":"#3f7a52"},{"offset":1,"color":"#3f7a52"}]}},{"test":"datum.c==='GWCLA'","value":{"gradient":"linear","x1":0,"y1":0,"x2":1,"y2":0,"stops":[{"offset":0,"color":"#f2302a"},{"offset":0.25,"color":"#f2302a"},{"offset":0.25,"color":"#43309a"},{"offset":0.5,"color":"#43309a"},{"offset":0.5,"color":"#f2302a"},{"offset":0.75,"color":"#f2302a"},{"offset":0.75,"color":"#43309a"},{"offset":1,"color":"#43309a"}]}},{"test":"datum.c==='GWDHA'","value":{"gradient":"linear","x1":0,"y1":0,"x2":1,"y2":0,"stops":[{"offset":0,"color":"#f2302a"},{"offset":0.25,"color":"#f2302a"},{"offset":0.25,"color":"#4e4e86"},{"offset":0.5,"color":"#4e4e86"},{"offset":0.5,"color":"#f2302a"},{"offset":0.75,"color":"#f2302a"},{"offset":0.75,"color":"#4e4e86"},{"offset":1,"color":"#4e4e86"}]}},{"test":"datum.c==='GWEPA'","value":{"gradient":"linear","x1":0,"y1":0,"x2":1,"y2":0,"stops":[{"offset":0,"color":"#f2302a"},{"offset":0.25,"color":"#f2302a"},{"offset":0.25,"color":"#a4687e"},{"offset":0.5,"color":"#a4687e"},{"offset":0.5,"color":"#f2302a"},{"offset":0.75,"color":"#f2302a"},{"offset":0.75,"color":"#a4687e"},{"offset":1,"color":"#a4687e"}]}}],"field":"c","type":"nominal","scale":{"domain":["NCTR","ROSI","PCTR","GW","C16","GWC16","C18","GWC18","CLA","GWCLA","DHA","GWDHA","EPA","GWEPA"],"range":["#ffffff","#1c9b3c","#1a1a1a","#fc2a1e","#8e8c58","#c8603c","#3e7254","#9a4a3a","#3b1f72","#8a2a6a","#4c4a6a","#9a3a5a","#8f5572","#dd4a5a"]},"legend":null},
   "stroke":{"field":"c","type":"nominal","scale":{"domain":["NCTR","ROSI","PCTR","GW","C16","GWC16","C18","GWC18","CLA","GWCLA","DHA","GWDHA","EPA","GWEPA"],"range":["#9a9a9a","#222222","#222222","#333333","#333333","#a8a46a","#222222","#4a8a5a","#222222","#5a4aa8","#222222","#5a5a8a","#333333","#c07a90"]},"legend":null}}},
  {"mark":{"type":"rule","strokeWidth":1},"encoding":{"x":{"field":"c","type":"nominal"},"y":{"field":"v","type":"quantitative"},"y2":{"field":"e"},"color":{"field":"c","type":"nominal","scale":{"domain":["NCTR","ROSI","PCTR","GW","C16","GWC16","C18","GWC18","CLA","GWCLA","DHA","GWDHA","EPA","GWEPA"],"range":["#8a8a8a","#333333","#666666","#444444","#555555","#c4bc8a","#444444","#6fa07f","#333333","#8c80c0","#333333","#7a78a6","#555555","#d890a8"]},"legend":null}}},
  {"mark":{"type":"tick","orient":"horizontal","size":7,"thickness":1},"encoding":{"x":{"field":"c","type":"nominal"},"y":{"field":"e","type":"quantitative"},"color":{"field":"c","type":"nominal","legend":null}}},
  {"transform":[{"filter":"datum.l!=='' && datum.e>=datum.v"}],"mark":{"type":"text","baseline":"alphabetic","dy":-3,"fontSize":13},"encoding":{"x":{"field":"c","type":"nominal"},"y":{"field":"e","type":"quantitative"},"text":{"field":"l"},"color":{"condition":{"test":"datum.l===upper(datum.l)","value":"#a8a8a8"},"value":"#1a1a1a"}}},
  {"transform":[{"filter":"datum.l!=='' && datum.e<datum.v"}],"mark":{"type":"text","baseline":"top","dy":3,"fontSize":13},"encoding":{"x":{"field":"c","type":"nominal"},"y":{"field":"e","type":"quantitative"},"text":{"field":"l"},"color":{"condition":{"test":"datum.l===upper(datum.l)","value":"#a8a8a8"},"value":"#1a1a1a"}}}
 ]},
 {"data":{"name":"sig"},"transform":[{"filter":"datum.g==='NR1H3'"}],"layer":[
  {"mark":{"type":"rule","color":"#666666","strokeWidth":1},"encoding":{"x":{"field":"a","type":"nominal"},"x2":{"field":"b"},"y":{"field":"y","type":"quantitative"}}},
  {"transform":[{"filter":"datum.t==='*'"}],"mark":{"type":"text","dx":9,"dy":2,"baseline":"alphabetic","fontSize":11,"color":"#222222"},"encoding":{"x":{"field":"a","type":"nominal"},"y":{"field":"y","type":"quantitative"},"text":{"field":"t"}}},
  {"transform":[{"filter":"datum.t!=='*'"}],"mark":{"type":"text","dx":9,"dy":-3,"baseline":"alphabetic","fontSize":9,"fontStyle":"italic","color":"#333333"},"encoding":{"x":{"field":"a","type":"nominal"},"y":{"field":"y","type":"quantitative"},"text":{"field":"t"}}}
 ]}
]},
{"title":"RXRA","width":272,"height":190,"layer":[
 {"data":{"values":[{"z":0}]},"mark":{"type":"rule","color":"#555555","strokeWidth":1},"encoding":{"y":{"field":"z","type":"quantitative"}}},
 {"data":{"name":"bars"},"transform":[{"filter":"datum.g==='RXRA'"}],"layer":[
  {"mark":{"type":"bar","strokeWidth":1},"encoding":{"x":{"field":"c","type":"nominal","scale":{"domain":["NCTR","ROSI","PCTR","GW","C16","GWC16","C18","GWC18","CLA","GWCLA","DHA","GWDHA","EPA","GWEPA"],"paddingInner":0.375,"paddingOuter":0.7}},"y":{"field":"v","type":"quantitative","scale":{"domain":[-0.8,0.4],"nice":false,"zero":false},"axis":{"values":[0.4,0.2,0,-0.2,-0.4,-0.6,-0.8],"tickCount":30,"labelFlush":false,"format":".1f"}},
   "fill":{"condition":[{"test":"datum.c==='GWC16'","value":{"gradient":"linear","x1":0,"y1":0,"x2":1,"y2":0,"stops":[{"offset":0,"color":"#f2302a"},{"offset":0.25,"color":"#f2302a"},{"offset":0.25,"color":"#a39f62"},{"offset":0.5,"color":"#a39f62"},{"offset":0.5,"color":"#f2302a"},{"offset":0.75,"color":"#f2302a"},{"offset":0.75,"color":"#a39f62"},{"offset":1,"color":"#a39f62"}]}},{"test":"datum.c==='GWC18'","value":{"gradient":"linear","x1":0,"y1":0,"x2":1,"y2":0,"stops":[{"offset":0,"color":"#f2302a"},{"offset":0.25,"color":"#f2302a"},{"offset":0.25,"color":"#3f7a52"},{"offset":0.5,"color":"#3f7a52"},{"offset":0.5,"color":"#f2302a"},{"offset":0.75,"color":"#f2302a"},{"offset":0.75,"color":"#3f7a52"},{"offset":1,"color":"#3f7a52"}]}},{"test":"datum.c==='GWCLA'","value":{"gradient":"linear","x1":0,"y1":0,"x2":1,"y2":0,"stops":[{"offset":0,"color":"#f2302a"},{"offset":0.25,"color":"#f2302a"},{"offset":0.25,"color":"#43309a"},{"offset":0.5,"color":"#43309a"},{"offset":0.5,"color":"#f2302a"},{"offset":0.75,"color":"#f2302a"},{"offset":0.75,"color":"#43309a"},{"offset":1,"color":"#43309a"}]}},{"test":"datum.c==='GWDHA'","value":{"gradient":"linear","x1":0,"y1":0,"x2":1,"y2":0,"stops":[{"offset":0,"color":"#f2302a"},{"offset":0.25,"color":"#f2302a"},{"offset":0.25,"color":"#4e4e86"},{"offset":0.5,"color":"#4e4e86"},{"offset":0.5,"color":"#f2302a"},{"offset":0.75,"color":"#f2302a"},{"offset":0.75,"color":"#4e4e86"},{"offset":1,"color":"#4e4e86"}]}},{"test":"datum.c==='GWEPA'","value":{"gradient":"linear","x1":0,"y1":0,"x2":1,"y2":0,"stops":[{"offset":0,"color":"#f2302a"},{"offset":0.25,"color":"#f2302a"},{"offset":0.25,"color":"#a4687e"},{"offset":0.5,"color":"#a4687e"},{"offset":0.5,"color":"#f2302a"},{"offset":0.75,"color":"#f2302a"},{"offset":0.75,"color":"#a4687e"},{"offset":1,"color":"#a4687e"}]}}],"field":"c","type":"nominal","scale":{"domain":["NCTR","ROSI","PCTR","GW","C16","GWC16","C18","GWC18","CLA","GWCLA","DHA","GWDHA","EPA","GWEPA"],"range":["#ffffff","#1c9b3c","#1a1a1a","#fc2a1e","#8e8c58","#c8603c","#3e7254","#9a4a3a","#3b1f72","#8a2a6a","#4c4a6a","#9a3a5a","#8f5572","#dd4a5a"]},"legend":null},
   "stroke":{"field":"c","type":"nominal","scale":{"domain":["NCTR","ROSI","PCTR","GW","C16","GWC16","C18","GWC18","CLA","GWCLA","DHA","GWDHA","EPA","GWEPA"],"range":["#9a9a9a","#222222","#222222","#333333","#333333","#a8a46a","#222222","#4a8a5a","#222222","#5a4aa8","#222222","#5a5a8a","#333333","#c07a90"]},"legend":null}}},
  {"mark":{"type":"rule","strokeWidth":1},"encoding":{"x":{"field":"c","type":"nominal"},"y":{"field":"v","type":"quantitative"},"y2":{"field":"e"},"color":{"field":"c","type":"nominal","scale":{"domain":["NCTR","ROSI","PCTR","GW","C16","GWC16","C18","GWC18","CLA","GWCLA","DHA","GWDHA","EPA","GWEPA"],"range":["#8a8a8a","#333333","#666666","#444444","#555555","#c4bc8a","#444444","#6fa07f","#333333","#8c80c0","#333333","#7a78a6","#555555","#d890a8"]},"legend":null}}},
  {"mark":{"type":"tick","orient":"horizontal","size":7,"thickness":1},"encoding":{"x":{"field":"c","type":"nominal"},"y":{"field":"e","type":"quantitative"},"color":{"field":"c","type":"nominal","legend":null}}},
  {"transform":[{"filter":"datum.l!=='' && datum.e>=datum.v"}],"mark":{"type":"text","baseline":"alphabetic","dy":-3,"fontSize":13},"encoding":{"x":{"field":"c","type":"nominal"},"y":{"field":"e","type":"quantitative"},"text":{"field":"l"},"color":{"condition":{"test":"datum.l===upper(datum.l)","value":"#a8a8a8"},"value":"#1a1a1a"}}},
  {"transform":[{"filter":"datum.l!=='' && datum.e<datum.v"}],"mark":{"type":"text","baseline":"top","dy":3,"fontSize":13},"encoding":{"x":{"field":"c","type":"nominal"},"y":{"field":"e","type":"quantitative"},"text":{"field":"l"},"color":{"condition":{"test":"datum.l===upper(datum.l)","value":"#a8a8a8"},"value":"#1a1a1a"}}}
 ]},
 {"data":{"name":"sig"},"transform":[{"filter":"datum.g==='RXRA'"}],"layer":[
  {"mark":{"type":"rule","color":"#666666","strokeWidth":1},"encoding":{"x":{"field":"a","type":"nominal"},"x2":{"field":"b"},"y":{"field":"y","type":"quantitative"}}},
  {"transform":[{"filter":"datum.t==='*'"}],"mark":{"type":"text","dx":9,"dy":2,"baseline":"alphabetic","fontSize":11,"color":"#222222"},"encoding":{"x":{"field":"a","type":"nominal"},"y":{"field":"y","type":"quantitative"},"text":{"field":"t"}}},
  {"transform":[{"filter":"datum.t!=='*'"}],"mark":{"type":"text","dx":9,"dy":-3,"baseline":"alphabetic","fontSize":9,"fontStyle":"italic","color":"#333333"},"encoding":{"x":{"field":"a","type":"nominal"},"y":{"field":"y","type":"quantitative"},"text":{"field":"t"}}}
 ]}
]},
{"title":"NCOR1","width":272,"height":190,"layer":[
 {"data":{"values":[{"z":0}]},"mark":{"type":"rule","color":"#555555","strokeWidth":1},"encoding":{"y":{"field":"z","type":"quantitative"}}},
 {"data":{"name":"bars"},"transform":[{"filter":"datum.g==='NCOR1'"}],"layer":[
  {"mark":{"type":"bar","strokeWidth":1},"encoding":{"x":{"field":"c","type":"nominal","scale":{"domain":["NCTR","ROSI","PCTR","GW","C16","GWC16","C18","GWC18","CLA","GWCLA","DHA","GWDHA","EPA","GWEPA"],"paddingInner":0.375,"paddingOuter":0.7}},"y":{"field":"v","type":"quantitative","scale":{"domain":[-1.2,0.4],"nice":false,"zero":false},"axis":{"values":[0.4,0.2,0,-0.2,-0.4,-0.6,-0.8,-1.0,-1.2],"tickCount":30,"labelFlush":false,"format":".1f"}},
   "fill":{"condition":[{"test":"datum.c==='GWC16'","value":{"gradient":"linear","x1":0,"y1":0,"x2":1,"y2":0,"stops":[{"offset":0,"color":"#f2302a"},{"offset":0.25,"color":"#f2302a"},{"offset":0.25,"color":"#a39f62"},{"offset":0.5,"color":"#a39f62"},{"offset":0.5,"color":"#f2302a"},{"offset":0.75,"color":"#f2302a"},{"offset":0.75,"color":"#a39f62"},{"offset":1,"color":"#a39f62"}]}},{"test":"datum.c==='GWC18'","value":{"gradient":"linear","x1":0,"y1":0,"x2":1,"y2":0,"stops":[{"offset":0,"color":"#f2302a"},{"offset":0.25,"color":"#f2302a"},{"offset":0.25,"color":"#3f7a52"},{"offset":0.5,"color":"#3f7a52"},{"offset":0.5,"color":"#f2302a"},{"offset":0.75,"color":"#f2302a"},{"offset":0.75,"color":"#3f7a52"},{"offset":1,"color":"#3f7a52"}]}},{"test":"datum.c==='GWCLA'","value":{"gradient":"linear","x1":0,"y1":0,"x2":1,"y2":0,"stops":[{"offset":0,"color":"#f2302a"},{"offset":0.25,"color":"#f2302a"},{"offset":0.25,"color":"#43309a"},{"offset":0.5,"color":"#43309a"},{"offset":0.5,"color":"#f2302a"},{"offset":0.75,"color":"#f2302a"},{"offset":0.75,"color":"#43309a"},{"offset":1,"color":"#43309a"}]}},{"test":"datum.c==='GWDHA'","value":{"gradient":"linear","x1":0,"y1":0,"x2":1,"y2":0,"stops":[{"offset":0,"color":"#f2302a"},{"offset":0.25,"color":"#f2302a"},{"offset":0.25,"color":"#4e4e86"},{"offset":0.5,"color":"#4e4e86"},{"offset":0.5,"color":"#f2302a"},{"offset":0.75,"color":"#f2302a"},{"offset":0.75,"color":"#4e4e86"},{"offset":1,"color":"#4e4e86"}]}},{"test":"datum.c==='GWEPA'","value":{"gradient":"linear","x1":0,"y1":0,"x2":1,"y2":0,"stops":[{"offset":0,"color":"#f2302a"},{"offset":0.25,"color":"#f2302a"},{"offset":0.25,"color":"#a4687e"},{"offset":0.5,"color":"#a4687e"},{"offset":0.5,"color":"#f2302a"},{"offset":0.75,"color":"#f2302a"},{"offset":0.75,"color":"#a4687e"},{"offset":1,"color":"#a4687e"}]}}],"field":"c","type":"nominal","scale":{"domain":["NCTR","ROSI","PCTR","GW","C16","GWC16","C18","GWC18","CLA","GWCLA","DHA","GWDHA","EPA","GWEPA"],"range":["#ffffff","#1c9b3c","#1a1a1a","#fc2a1e","#8e8c58","#c8603c","#3e7254","#9a4a3a","#3b1f72","#8a2a6a","#4c4a6a","#9a3a5a","#8f5572","#dd4a5a"]},"legend":null},
   "stroke":{"field":"c","type":"nominal","scale":{"domain":["NCTR","ROSI","PCTR","GW","C16","GWC16","C18","GWC18","CLA","GWCLA","DHA","GWDHA","EPA","GWEPA"],"range":["#9a9a9a","#222222","#222222","#333333","#333333","#a8a46a","#222222","#4a8a5a","#222222","#5a4aa8","#222222","#5a5a8a","#333333","#c07a90"]},"legend":null}}},
  {"mark":{"type":"rule","strokeWidth":1},"encoding":{"x":{"field":"c","type":"nominal"},"y":{"field":"v","type":"quantitative"},"y2":{"field":"e"},"color":{"field":"c","type":"nominal","scale":{"domain":["NCTR","ROSI","PCTR","GW","C16","GWC16","C18","GWC18","CLA","GWCLA","DHA","GWDHA","EPA","GWEPA"],"range":["#8a8a8a","#333333","#666666","#444444","#555555","#c4bc8a","#444444","#6fa07f","#333333","#8c80c0","#333333","#7a78a6","#555555","#d890a8"]},"legend":null}}},
  {"mark":{"type":"tick","orient":"horizontal","size":7,"thickness":1},"encoding":{"x":{"field":"c","type":"nominal"},"y":{"field":"e","type":"quantitative"},"color":{"field":"c","type":"nominal","legend":null}}},
  {"transform":[{"filter":"datum.l!=='' && datum.e>=datum.v"}],"mark":{"type":"text","baseline":"alphabetic","dy":-3,"fontSize":13},"encoding":{"x":{"field":"c","type":"nominal"},"y":{"field":"e","type":"quantitative"},"text":{"field":"l"},"color":{"condition":{"test":"datum.l===upper(datum.l)","value":"#a8a8a8"},"value":"#1a1a1a"}}},
  {"transform":[{"filter":"datum.l!=='' && datum.e<datum.v"}],"mark":{"type":"text","baseline":"top","dy":3,"fontSize":13},"encoding":{"x":{"field":"c","type":"nominal"},"y":{"field":"e","type":"quantitative"},"text":{"field":"l"},"color":{"condition":{"test":"datum.l===upper(datum.l)","value":"#a8a8a8"},"value":"#1a1a1a"}}}
 ]},
 {"data":{"name":"sig"},"transform":[{"filter":"datum.g==='NCOR1'"}],"layer":[
  {"mark":{"type":"rule","color":"#666666","strokeWidth":1},"encoding":{"x":{"field":"a","type":"nominal"},"x2":{"field":"b"},"y":{"field":"y","type":"quantitative"}}},
  {"transform":[{"filter":"datum.t==='*'"}],"mark":{"type":"text","dx":9,"dy":2,"baseline":"alphabetic","fontSize":11,"color":"#222222"},"encoding":{"x":{"field":"a","type":"nominal"},"y":{"field":"y","type":"quantitative"},"text":{"field":"t"}}},
  {"transform":[{"filter":"datum.t!=='*'"}],"mark":{"type":"text","dx":9,"dy":-3,"baseline":"alphabetic","fontSize":9,"fontStyle":"italic","color":"#333333"},"encoding":{"x":{"field":"a","type":"nominal"},"y":{"field":"y","type":"quantitative"},"text":{"field":"t"}}}
 ]}
]},
{"title":"PPARG","width":272,"height":190,"layer":[
 {"data":{"values":[{"z":0}]},"mark":{"type":"rule","color":"#555555","strokeWidth":1},"encoding":{"y":{"field":"z","type":"quantitative"}}},
 {"data":{"name":"bars"},"transform":[{"filter":"datum.g==='PPARG'"}],"layer":[
  {"mark":{"type":"bar","strokeWidth":1},"encoding":{"x":{"field":"c","type":"nominal","scale":{"domain":["NCTR","ROSI","PCTR","GW","C16","GWC16","C18","GWC18","CLA","GWCLA","DHA","GWDHA","EPA","GWEPA"],"paddingInner":0.375,"paddingOuter":0.7}},"y":{"field":"v","type":"quantitative","scale":{"domain":[-2.0,1.0],"nice":false,"zero":false},"axis":{"values":[1.0,0.5,0,-0.5,-1.0,-1.5,-2.0],"tickCount":30,"labelFlush":false,"format":".1f"}},
   "fill":{"condition":[{"test":"datum.c==='GWC16'","value":{"gradient":"linear","x1":0,"y1":0,"x2":1,"y2":0,"stops":[{"offset":0,"color":"#f2302a"},{"offset":0.25,"color":"#f2302a"},{"offset":0.25,"color":"#a39f62"},{"offset":0.5,"color":"#a39f62"},{"offset":0.5,"color":"#f2302a"},{"offset":0.75,"color":"#f2302a"},{"offset":0.75,"color":"#a39f62"},{"offset":1,"color":"#a39f62"}]}},{"test":"datum.c==='GWC18'","value":{"gradient":"linear","x1":0,"y1":0,"x2":1,"y2":0,"stops":[{"offset":0,"color":"#f2302a"},{"offset":0.25,"color":"#f2302a"},{"offset":0.25,"color":"#3f7a52"},{"offset":0.5,"color":"#3f7a52"},{"offset":0.5,"color":"#f2302a"},{"offset":0.75,"color":"#f2302a"},{"offset":0.75,"color":"#3f7a52"},{"offset":1,"color":"#3f7a52"}]}},{"test":"datum.c==='GWCLA'","value":{"gradient":"linear","x1":0,"y1":0,"x2":1,"y2":0,"stops":[{"offset":0,"color":"#f2302a"},{"offset":0.25,"color":"#f2302a"},{"offset":0.25,"color":"#43309a"},{"offset":0.5,"color":"#43309a"},{"offset":0.5,"color":"#f2302a"},{"offset":0.75,"color":"#f2302a"},{"offset":0.75,"color":"#43309a"},{"offset":1,"color":"#43309a"}]}},{"test":"datum.c==='GWDHA'","value":{"gradient":"linear","x1":0,"y1":0,"x2":1,"y2":0,"stops":[{"offset":0,"color":"#f2302a"},{"offset":0.25,"color":"#f2302a"},{"offset":0.25,"color":"#4e4e86"},{"offset":0.5,"color":"#4e4e86"},{"offset":0.5,"color":"#f2302a"},{"offset":0.75,"color":"#f2302a"},{"offset":0.75,"color":"#4e4e86"},{"offset":1,"color":"#4e4e86"}]}},{"test":"datum.c==='GWEPA'","value":{"gradient":"linear","x1":0,"y1":0,"x2":1,"y2":0,"stops":[{"offset":0,"color":"#f2302a"},{"offset":0.25,"color":"#f2302a"},{"offset":0.25,"color":"#a4687e"},{"offset":0.5,"color":"#a4687e"},{"offset":0.5,"color":"#f2302a"},{"offset":0.75,"color":"#f2302a"},{"offset":0.75,"color":"#a4687e"},{"offset":1,"color":"#a4687e"}]}}],"field":"c","type":"nominal","scale":{"domain":["NCTR","ROSI","PCTR","GW","C16","GWC16","C18","GWC18","CLA","GWCLA","DHA","GWDHA","EPA","GWEPA"],"range":["#ffffff","#1c9b3c","#1a1a1a","#fc2a1e","#8e8c58","#c8603c","#3e7254","#9a4a3a","#3b1f72","#8a2a6a","#4c4a6a","#9a3a5a","#8f5572","#dd4a5a"]},"legend":null},
   "stroke":{"field":"c","type":"nominal","scale":{"domain":["NCTR","ROSI","PCTR","GW","C16","GWC16","C18","GWC18","CLA","GWCLA","DHA","GWDHA","EPA","GWEPA"],"range":["#9a9a9a","#222222","#222222","#333333","#333333","#a8a46a","#222222","#4a8a5a","#222222","#5a4aa8","#222222","#5a5a8a","#333333","#c07a90"]},"legend":null}}},
  {"mark":{"type":"rule","strokeWidth":1},"encoding":{"x":{"field":"c","type":"nominal"},"y":{"field":"v","type":"quantitative"},"y2":{"field":"e"},"color":{"field":"c","type":"nominal","scale":{"domain":["NCTR","ROSI","PCTR","GW","C16","GWC16","C18","GWC18","CLA","GWCLA","DHA","GWDHA","EPA","GWEPA"],"range":["#8a8a8a","#333333","#666666","#444444","#555555","#c4bc8a","#444444","#6fa07f","#333333","#8c80c0","#333333","#7a78a6","#555555","#d890a8"]},"legend":null}}},
  {"mark":{"type":"tick","orient":"horizontal","size":7,"thickness":1},"encoding":{"x":{"field":"c","type":"nominal"},"y":{"field":"e","type":"quantitative"},"color":{"field":"c","type":"nominal","legend":null}}},
  {"transform":[{"filter":"datum.l!=='' && datum.e>=datum.v"}],"mark":{"type":"text","baseline":"alphabetic","dy":-3,"fontSize":13},"encoding":{"x":{"field":"c","type":"nominal"},"y":{"field":"e","type":"quantitative"},"text":{"field":"l"},"color":{"condition":{"test":"datum.l===upper(datum.l)","value":"#a8a8a8"},"value":"#1a1a1a"}}},
  {"transform":[{"filter":"datum.l!=='' && datum.e<datum.v"}],"mark":{"type":"text","baseline":"top","dy":3,"fontSize":13},"encoding":{"x":{"field":"c","type":"nominal"},"y":{"field":"e","type":"quantitative"},"text":{"field":"l"},"color":{"condition":{"test":"datum.l===upper(datum.l)","value":"#a8a8a8"},"value":"#1a1a1a"}}}
 ]},
 {"data":{"name":"sig"},"transform":[{"filter":"datum.g==='PPARG'"}],"layer":[
  {"mark":{"type":"rule","color":"#666666","strokeWidth":1},"encoding":{"x":{"field":"a","type":"nominal"},"x2":{"field":"b"},"y":{"field":"y","type":"quantitative"}}},
  {"transform":[{"filter":"datum.t==='*'"}],"mark":{"type":"text","dx":9,"dy":2,"baseline":"alphabetic","fontSize":11,"color":"#222222"},"encoding":{"x":{"field":"a","type":"nominal"},"y":{"field":"y","type":"quantitative"},"text":{"field":"t"}}},
  {"transform":[{"filter":"datum.t!=='*'"}],"mark":{"type":"text","dx":9,"dy":-3,"baseline":"alphabetic","fontSize":9,"fontStyle":"italic","color":"#333333"},"encoding":{"x":{"field":"a","type":"nominal"},"y":{"field":"y","type":"quantitative"},"text":{"field":"t"}}}
 ]}
]},
{"title":"PPARD","width":272,"height":190,"layer":[
 {"data":{"values":[{"z":0}]},"mark":{"type":"rule","color":"#555555","strokeWidth":1},"encoding":{"y":{"field":"z","type":"quantitative"}}},
 {"data":{"name":"bars"},"transform":[{"filter":"datum.g==='PPARD'"}],"layer":[
  {"mark":{"type":"bar","strokeWidth":1},"encoding":{"x":{"field":"c","type":"nominal","scale":{"domain":["NCTR","ROSI","PCTR","GW","C16","GWC16","C18","GWC18","CLA","GWCLA","DHA","GWDHA","EPA","GWEPA"],"paddingInner":0.375,"paddingOuter":0.7}},"y":{"field":"v","type":"quantitative","scale":{"domain":[-1.0,0.4],"nice":false,"zero":false},"axis":{"values":[0.4,0.2,0,-0.2,-0.4,-0.6,-0.8,-1.0],"tickCount":30,"labelFlush":false,"format":".1f"}},
   "fill":{"condition":[{"test":"datum.c==='GWC16'","value":{"gradient":"linear","x1":0,"y1":0,"x2":1,"y2":0,"stops":[{"offset":0,"color":"#f2302a"},{"offset":0.25,"color":"#f2302a"},{"offset":0.25,"color":"#a39f62"},{"offset":0.5,"color":"#a39f62"},{"offset":0.5,"color":"#f2302a"},{"offset":0.75,"color":"#f2302a"},{"offset":0.75,"color":"#a39f62"},{"offset":1,"color":"#a39f62"}]}},{"test":"datum.c==='GWC18'","value":{"gradient":"linear","x1":0,"y1":0,"x2":1,"y2":0,"stops":[{"offset":0,"color":"#f2302a"},{"offset":0.25,"color":"#f2302a"},{"offset":0.25,"color":"#3f7a52"},{"offset":0.5,"color":"#3f7a52"},{"offset":0.5,"color":"#f2302a"},{"offset":0.75,"color":"#f2302a"},{"offset":0.75,"color":"#3f7a52"},{"offset":1,"color":"#3f7a52"}]}},{"test":"datum.c==='GWCLA'","value":{"gradient":"linear","x1":0,"y1":0,"x2":1,"y2":0,"stops":[{"offset":0,"color":"#f2302a"},{"offset":0.25,"color":"#f2302a"},{"offset":0.25,"color":"#43309a"},{"offset":0.5,"color":"#43309a"},{"offset":0.5,"color":"#f2302a"},{"offset":0.75,"color":"#f2302a"},{"offset":0.75,"color":"#43309a"},{"offset":1,"color":"#43309a"}]}},{"test":"datum.c==='GWDHA'","value":{"gradient":"linear","x1":0,"y1":0,"x2":1,"y2":0,"stops":[{"offset":0,"color":"#f2302a"},{"offset":0.25,"color":"#f2302a"},{"offset":0.25,"color":"#4e4e86"},{"offset":0.5,"color":"#4e4e86"},{"offset":0.5,"color":"#f2302a"},{"offset":0.75,"color":"#f2302a"},{"offset":0.75,"color":"#4e4e86"},{"offset":1,"color":"#4e4e86"}]}},{"test":"datum.c==='GWEPA'","value":{"gradient":"linear","x1":0,"y1":0,"x2":1,"y2":0,"stops":[{"offset":0,"color":"#f2302a"},{"offset":0.25,"color":"#f2302a"},{"offset":0.25,"color":"#a4687e"},{"offset":0.5,"color":"#a4687e"},{"offset":0.5,"color":"#f2302a"},{"offset":0.75,"color":"#f2302a"},{"offset":0.75,"color":"#a4687e"},{"offset":1,"color":"#a4687e"}]}}],"field":"c","type":"nominal","scale":{"domain":["NCTR","ROSI","PCTR","GW","C16","GWC16","C18","GWC18","CLA","GWCLA","DHA","GWDHA","EPA","GWEPA"],"range":["#ffffff","#1c9b3c","#1a1a1a","#fc2a1e","#8e8c58","#c8603c","#3e7254","#9a4a3a","#3b1f72","#8a2a6a","#4c4a6a","#9a3a5a","#8f5572","#dd4a5a"]},"legend":null},
   "stroke":{"field":"c","type":"nominal","scale":{"domain":["NCTR","ROSI","PCTR","GW","C16","GWC16","C18","GWC18","CLA","GWCLA","DHA","GWDHA","EPA","GWEPA"],"range":["#9a9a9a","#222222","#222222","#333333","#333333","#a8a46a","#222222","#4a8a5a","#222222","#5a4aa8","#222222","#5a5a8a","#333333","#c07a90"]},"legend":null}}},
  {"mark":{"type":"rule","strokeWidth":1},"encoding":{"x":{"field":"c","type":"nominal"},"y":{"field":"v","type":"quantitative"},"y2":{"field":"e"},"color":{"field":"c","type":"nominal","scale":{"domain":["NCTR","ROSI","PCTR","GW","C16","GWC16","C18","GWC18","CLA","GWCLA","DHA","GWDHA","EPA","GWEPA"],"range":["#8a8a8a","#333333","#666666","#444444","#555555","#c4bc8a","#444444","#6fa07f","#333333","#8c80c0","#333333","#7a78a6","#555555","#d890a8"]},"legend":null}}},
  {"mark":{"type":"tick","orient":"horizontal","size":7,"thickness":1},"encoding":{"x":{"field":"c","type":"nominal"},"y":{"field":"e","type":"quantitative"},"color":{"field":"c","type":"nominal","legend":null}}},
  {"transform":[{"filter":"datum.l!=='' && datum.e>=datum.v"}],"mark":{"type":"text","baseline":"alphabetic","dy":-3,"fontSize":13},"encoding":{"x":{"field":"c","type":"nominal"},"y":{"field":"e","type":"quantitative"},"text":{"field":"l"},"color":{"condition":{"test":"datum.l===upper(datum.l)","value":"#a8a8a8"},"value":"#1a1a1a"}}},
  {"transform":[{"filter":"datum.l!=='' && datum.e<datum.v"}],"mark":{"type":"text","baseline":"top","dy":3,"fontSize":13},"encoding":{"x":{"field":"c","type":"nominal"},"y":{"field":"e","type":"quantitative"},"text":{"field":"l"},"color":{"condition":{"test":"datum.l===upper(datum.l)","value":"#a8a8a8"},"value":"#1a1a1a"}}}
 ]},
 {"data":{"name":"sig"},"transform":[{"filter":"datum.g==='PPARD'"}],"layer":[
  {"mark":{"type":"rule","color":"#666666","strokeWidth":1},"encoding":{"x":{"field":"a","type":"nominal"},"x2":{"field":"b"},"y":{"field":"y","type":"quantitative"}}},
  {"transform":[{"filter":"datum.t==='*'"}],"mark":{"type":"text","dx":9,"dy":2,"baseline":"alphabetic","fontSize":11,"color":"#222222"},"encoding":{"x":{"field":"a","type":"nominal"},"y":{"field":"y","type":"quantitative"},"text":{"field":"t"}}},
  {"transform":[{"filter":"datum.t!=='*'"}],"mark":{"type":"text","dx":9,"dy":-3,"baseline":"alphabetic","fontSize":9,"fontStyle":"italic","color":"#333333"},"encoding":{"x":{"field":"a","type":"nominal"},"y":{"field":"y","type":"quantitative"},"text":{"field":"t"}}}
 ]}
]}
],
"config":{
 "view":{"stroke":null},
 "font":"Liberation Sans",
 "axis":{"grid":false,"title":null,"domainColor":"#8c8c8c","tickColor":"#8c8c8c","tickSize":4,"labelColor":"#333333","labelFontSize":10,"labelFont":"Liberation Sans","labelOverlap":false},
 "axisX":{"labelAngle":-40,"labelAlign":"right","labelBaseline":"middle","labelFontSize":11,"labelPadding":3,"domainColor":"#555555","tickColor":"#555555"},
 "axisY":{"labelPadding":3,"labelOverlap":false,"labelFlush":false},
 "title":{"anchor":"start","frame":"group","offset":-19,"dx":6,"baseline":"alphabetic","fontSize":17,"fontStyle":"italic","fontWeight":"normal","color":"#1a1a1a","font":"Liberation Sans"}
}
}
